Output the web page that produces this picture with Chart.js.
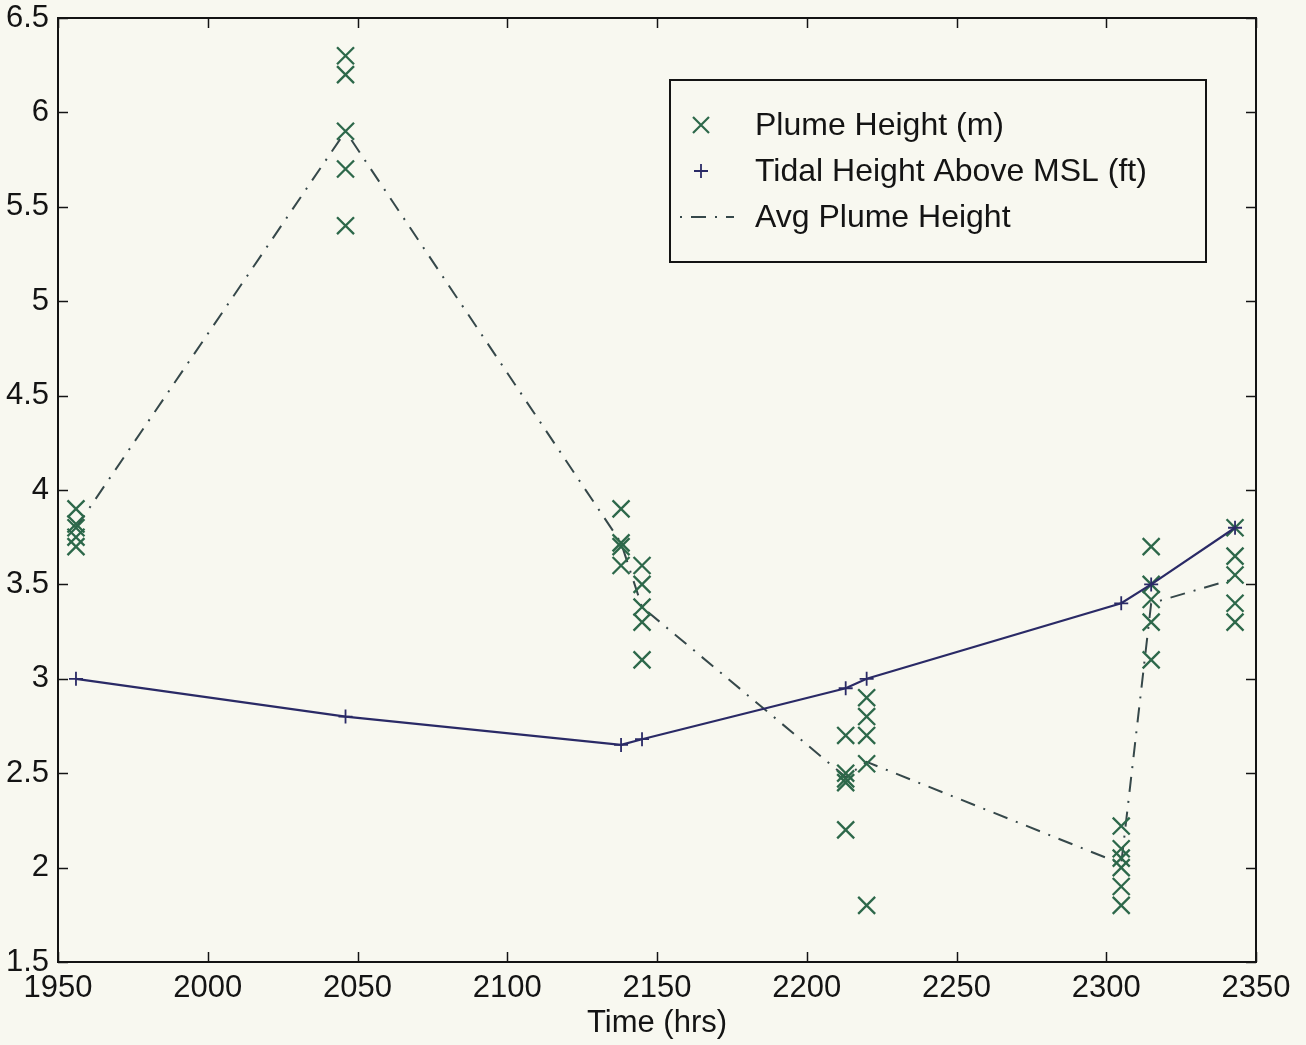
<!DOCTYPE html>
<html>
<head>
<meta charset="utf-8">
<script src="https://cdn.jsdelivr.net/npm/chart.js@4/dist/chart.umd.min.js"></script>
<style>
  html, body { margin: 0; padding: 0; background: #f8f8f0; }
  #wrap { width: 1306px; height: 1045px; }
</style>
</head>
<body>
<div id="wrap"><canvas id="c" width="1306" height="1045"></canvas></div>
<script>
// ---- Data ----
const clusterTimes = [1956, 2046, 2138, 2145, 2213, 2220, 2305, 2315, 2343];
const plumeHeights = [
  [3.9, 3.82, 3.8, 3.75, 3.7],
  [6.3, 6.2, 5.9, 5.7, 5.4],
  [3.9, 3.72, 3.7, 3.6],
  [3.6, 3.5, 3.38, 3.3, 3.1],
  [2.7, 2.5, 2.47, 2.45, 2.2],
  [2.9, 2.8, 2.7, 2.55, 1.8],
  [2.22, 2.1, 2.05, 2.0, 1.9, 1.8],
  [3.7, 3.5, 3.42, 3.3, 3.1],
  [3.8, 3.65, 3.55, 3.4, 3.3]
];
const tidalHeights = [3.0, 2.8, 2.65, 2.68, 2.95, 3.0, 3.4, 3.5, 3.8];
const avgPlumeHeights = [3.8, 5.9, 3.72, 3.38, 2.48, 2.56, 2.02, 3.4, 3.53];
const seriesLabels = ['Plume Height (m)', 'Tidal Height Above MSL (ft)', 'Avg Plume Height'];
const xAxisTitle = 'Time (hrs)';

// ---- Build library data ----
const plumePoints = [];
clusterTimes.forEach((t, i) => plumeHeights[i].forEach(v => plumePoints.push({x: t, y: v})));
const tidalPoints = clusterTimes.map((t, i) => ({x: t, y: tidalHeights[i]}));
const avgPoints = clusterTimes.map((t, i) => ({x: t, y: avgPlumeHeights[i]}));

const BG = '#f8f8f0';
const PLUME = '#2d684a';
const TIDAL = '#2a2a66';
const AVG = '#36484a';
const INK = '#141414';
const DASHDOT = [15, 9, 2, 9];
const FAMILY = '"Liberation Sans", Arial, Helvetica, sans-serif';
const FONT = {family: FAMILY, size: 31};
const LEGEND_SIZE = 32;

const bgPlugin = {
  id: 'bg',
  beforeDraw(chart) {
    const ctx = chart.ctx;
    ctx.save();
    ctx.fillStyle = BG;
    ctx.fillRect(0, 0, chart.width, chart.height);
    ctx.restore();
  }
};

const framePlugin = {
  id: 'frame',
  afterDraw(chart) {
    const ctx = chart.ctx;
    const a = chart.chartArea;
    const xs = chart.scales.x, ys = chart.scales.y;
    const L = 10;
    ctx.save();
    ctx.strokeStyle = INK;
    ctx.lineWidth = 2;
    ctx.strokeRect(a.left, a.top, a.right - a.left, a.bottom - a.top);
    ctx.lineWidth = 1.5;
    ctx.beginPath();
    xs.ticks.forEach(t => {
      const px = Math.round(xs.getPixelForValue(t.value)) + 0.5;
      ctx.moveTo(px, a.bottom); ctx.lineTo(px, a.bottom - L);
      ctx.moveTo(px, a.top); ctx.lineTo(px, a.top + L);
    });
    ys.ticks.forEach(t => {
      const py = Math.round(ys.getPixelForValue(t.value)) + 0.5;
      ctx.moveTo(a.left, py); ctx.lineTo(a.left + L, py);
      ctx.moveTo(a.right, py); ctx.lineTo(a.right - L, py);
    });
    ctx.stroke();

    // Legend box
    const bx = 670, by = 80, bw = 536, bh = 182;
    ctx.lineWidth = 2;
    ctx.strokeRect(bx, by, bw, bh);
    const rows = [125, 171, 217];
    const mx = 701, tx = 755;
    ctx.font = LEGEND_SIZE + 'px ' + FAMILY;
    ctx.fillStyle = INK;
    ctx.textBaseline = 'middle';
    ctx.textAlign = 'left';
    chart.data.datasets.forEach((ds, i) => {
      const y = rows[i];
      ctx.save();
      if (i === 0) {
        ctx.strokeStyle = PLUME; ctx.lineWidth = 2.2;
        ctx.beginPath();
        ctx.moveTo(mx - 8, y - 8); ctx.lineTo(mx + 8, y + 8);
        ctx.moveTo(mx + 8, y - 8); ctx.lineTo(mx - 8, y + 8);
        ctx.stroke();
      } else if (i === 1) {
        ctx.strokeStyle = TIDAL; ctx.lineWidth = 1.8;
        ctx.beginPath();
        ctx.moveTo(mx - 7, y); ctx.lineTo(mx + 7, y);
        ctx.moveTo(mx, y - 7); ctx.lineTo(mx, y + 7);
        ctx.stroke();
      } else {
        ctx.strokeStyle = AVG; ctx.lineWidth = 2;
        ctx.setLineDash([2, 9, 15, 9, 2, 9, 8, 20]);
        ctx.beginPath();
        ctx.moveTo(680, y); ctx.lineTo(742, y);
        ctx.stroke();
      }
      ctx.restore();
      ctx.fillStyle = INK;
      ctx.fillText(ds.label, tx, y + 1);
    });
    ctx.restore();
  }
};

new Chart(document.getElementById('c'), {
  type: 'scatter',
  data: {
    datasets: [
      {
        label: seriesLabels[0],
        data: plumePoints,
        showLine: false,
        pointStyle: 'crossRot',
        pointRadius: 12,
        pointHoverRadius: 12,
        borderColor: PLUME,
        backgroundColor: PLUME,
        pointBorderWidth: 2.3,
        order: 2
      },
      {
        label: seriesLabels[1],
        data: tidalPoints,
        showLine: true,
        borderColor: TIDAL,
        backgroundColor: TIDAL,
        borderWidth: 2.2,
        pointStyle: 'cross',
        pointRadius: 7,
        pointHoverRadius: 7,
        pointBorderWidth: 1.8,
        tension: 0,
        order: 1
      },
      {
        label: seriesLabels[2],
        data: avgPoints,
        showLine: true,
        borderColor: AVG,
        backgroundColor: AVG,
        borderWidth: 2,
        borderDash: DASHDOT,
        pointRadius: 0,
        pointHoverRadius: 0,
        tension: 0,
        order: 3
      }
    ]
  },
  options: {
    responsive: false,
    animation: false,
    events: [],
    layout: { padding: { top: 18, right: 50, left: 0, bottom: 0 } },
    plugins: { legend: { display: false }, tooltip: { enabled: false } },
    scales: {
      x: {
        type: 'linear',
        min: 1950, max: 2350,
        afterFit: s => { s.height = 83; s.paddingLeft = 0; s.paddingRight = 0; },
        grid: { display: false, drawTicks: false },
        border: { display: false },
        ticks: { stepSize: 50, font: FONT, color: INK, padding: 8, maxRotation: 0, autoSkip: false,
                  callback: v => String(v) },
        title: { display: true, text: xAxisTitle, font: FONT, color: INK, padding: { top: 0, bottom: 3 } }
      },
      y: {
        type: 'linear',
        min: 1.5, max: 6.5,
        afterFit: s => { s.width = 58; s.paddingTop = 0; s.paddingBottom = 0; },
        grid: { display: false, drawTicks: false },
        border: { display: false },
        ticks: { stepSize: 0.5, font: FONT, color: INK, padding: 9, autoSkip: false,
                  callback: v => String(v) }
      }
    }
  },
  plugins: [bgPlugin, framePlugin]
});
</script>
</body>
</html>
